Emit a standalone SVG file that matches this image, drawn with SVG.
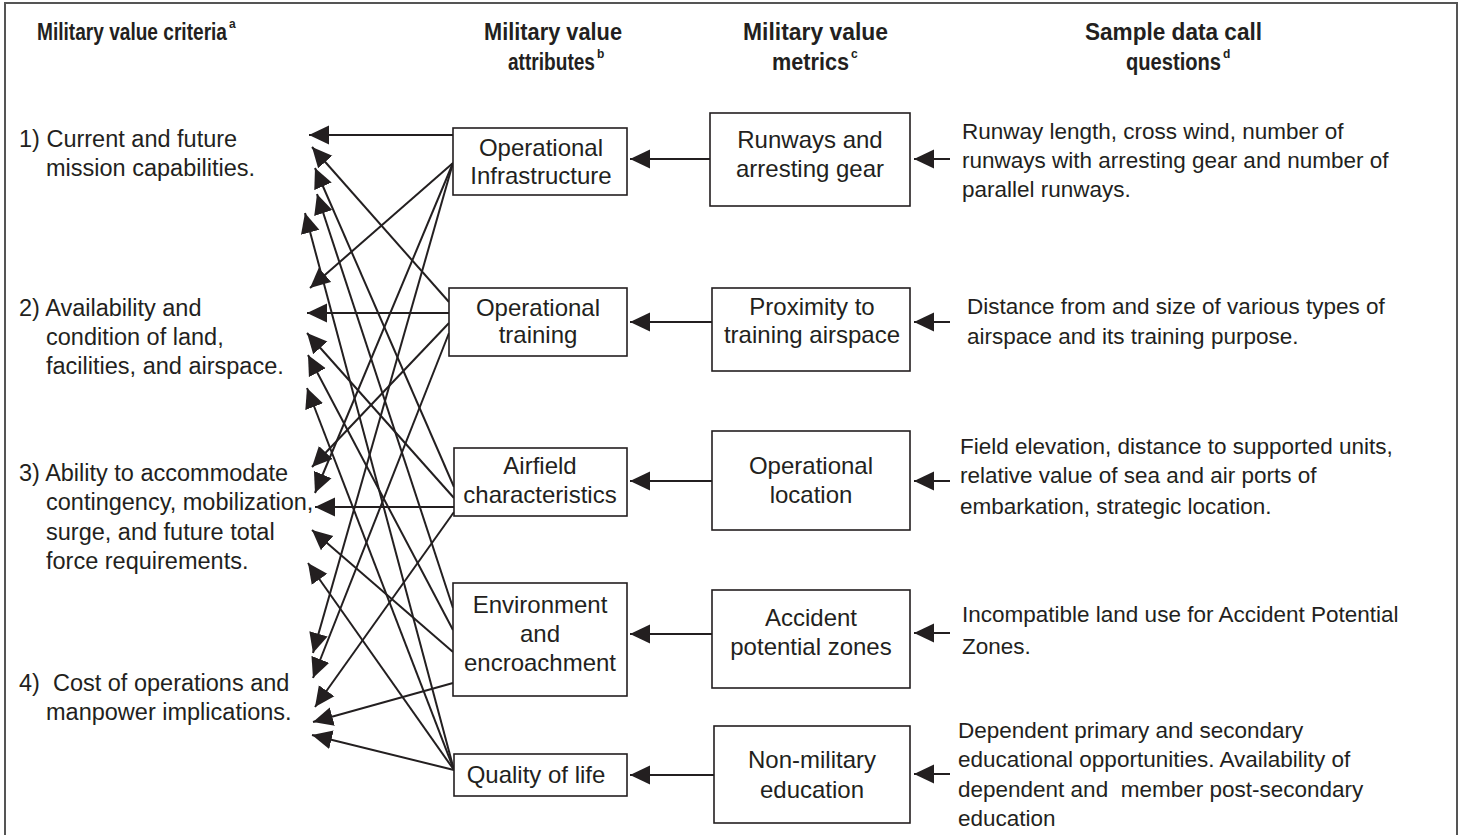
<svg xmlns="http://www.w3.org/2000/svg" width="1460" height="835" viewBox="0 0 1460 835">
<defs>
<marker id="ah" viewBox="0 0 20 20" markerWidth="20" markerHeight="20" refX="20" refY="10" markerUnits="userSpaceOnUse" orient="auto">
<path d="M0,0.5 L20,10 L0,19.5 z" fill="#231f20"/>
</marker>
<style>
text{font-family:"Liberation Sans",Arial,sans-serif;font-size:22.5px;fill:#231f20}
.h{font-weight:bold;font-size:23.5px}
.sup{font-size:12px;font-weight:bold}
.cr{font-size:23.5px}
.bx{font-size:24px;text-anchor:middle}
.box{fill:#fff;stroke:#231f20;stroke-width:1.6}
.ln{stroke:#231f20;stroke-width:2;fill:none;marker-end:url(#ah)}
</style>
</defs>
<rect width="1460" height="835" fill="#fff"/>
<path d="M5,835 V3 H1457 V835" fill="none" stroke="#555" stroke-width="2"/>

<g id="headers">
<text class="h" x="37" y="40"><tspan textLength="190" lengthAdjust="spacingAndGlyphs">Military value criteria</tspan><tspan class="sup" dx="2" dy="-12">a</tspan></text>
<text class="h" x="484" y="40" textLength="138" lengthAdjust="spacingAndGlyphs">Military value</text>
<text class="h" x="508" y="70"><tspan textLength="87" lengthAdjust="spacingAndGlyphs">attributes</tspan><tspan class="sup" dx="2" dy="-12">b</tspan></text>
<text class="h" x="743" y="40" textLength="145" lengthAdjust="spacingAndGlyphs">Military value</text>
<text class="h" x="772" y="70"><tspan textLength="77" lengthAdjust="spacingAndGlyphs">metrics</tspan><tspan class="sup" dx="2" dy="-12">c</tspan></text>
<text class="h" x="1085" y="40" textLength="177" lengthAdjust="spacingAndGlyphs">Sample data call</text>
<text class="h" x="1126" y="70"><tspan textLength="95" lengthAdjust="spacingAndGlyphs">questions</tspan><tspan class="sup" dx="2" dy="-12">d</tspan></text>
</g>

<g id="connectors">
<line class="ln" x1="453" y1="135" x2="309" y2="135"/>
<line class="ln" x1="453" y1="163" x2="310" y2="288"/>
<line class="ln" x1="453" y1="163" x2="315" y2="493"/>
<line class="ln" x1="453" y1="163" x2="313" y2="653"/>
<line class="ln" x1="449" y1="302" x2="312" y2="147"/>
<line class="ln" x1="449" y1="313" x2="307" y2="313"/>
<line class="ln" x1="449" y1="323" x2="312" y2="467"/>
<line class="ln" x1="449" y1="333" x2="313" y2="678"/>
<line class="ln" x1="454" y1="487" x2="315" y2="168"/>
<line class="ln" x1="454" y1="498" x2="307" y2="333"/>
<line class="ln" x1="454" y1="507" x2="315" y2="507"/>
<line class="ln" x1="454" y1="512" x2="315" y2="707"/>
<line class="ln" x1="453" y1="608" x2="317" y2="194"/>
<line class="ln" x1="453" y1="630" x2="308" y2="355"/>
<line class="ln" x1="453" y1="652" x2="312" y2="530"/>
<line class="ln" x1="453" y1="683" x2="313" y2="722"/>
<line class="ln" x1="454" y1="770" x2="305" y2="213"/>
<line class="ln" x1="454" y1="770" x2="307" y2="388"/>
<line class="ln" x1="454" y1="770" x2="308" y2="563"/>
<line class="ln" x1="454" y1="770" x2="312" y2="735"/>
<line class="ln" x1="710" y1="159" x2="630" y2="159"/>
<line class="ln" x1="712" y1="322" x2="630" y2="322"/>
<line class="ln" x1="712" y1="481" x2="630" y2="481"/>
<line class="ln" x1="712" y1="634" x2="630" y2="634"/>
<line class="ln" x1="714" y1="775" x2="630" y2="775"/>
<line class="ln" x1="950" y1="159" x2="914" y2="159"/>
<line class="ln" x1="950" y1="322" x2="914" y2="322"/>
<line class="ln" x1="950" y1="481" x2="914" y2="481"/>
<line class="ln" x1="950" y1="633" x2="914" y2="633"/>
<line class="ln" x1="950" y1="774" x2="914" y2="774"/>
</g>

<g id="criterion1">
<text class="cr" x="19" y="147">1) Current and future</text>
<text class="cr" x="46" y="176">mission capabilities.</text>
</g>
<g id="criterion2">
<text class="cr" x="19" y="316">2) Availability and</text>
<text class="cr" x="46" y="345">condition of land,</text>
<text class="cr" x="46" y="374">facilities, and airspace.</text>
</g>
<g id="criterion3">
<text class="cr" x="19" y="481">3) Ability to accommodate</text>
<text class="cr" x="46" y="510">contingency, mobilization,</text>
<text class="cr" x="46" y="540">surge, and future total</text>
<text class="cr" x="46" y="569">force requirements.</text>
</g>
<g id="criterion4">
<text class="cr" x="19" y="691" xml:space="preserve">4)  Cost of operations and</text>
<text class="cr" x="46" y="720">manpower implications.</text>
</g>

<g id="attr-infrastructure">
<rect class="box" x="453" y="128" width="174" height="67"/>
<text class="bx" x="541" y="156">Operational</text>
<text class="bx" x="541" y="184">Infrastructure</text>
</g>
<g id="attr-training">
<rect class="box" x="449" y="288" width="178" height="68"/>
<text class="bx" x="538" y="316">Operational</text>
<text class="bx" x="538" y="343">training</text>
</g>
<g id="attr-airfield">
<rect class="box" x="454" y="448" width="173" height="68"/>
<text class="bx" x="540" y="474">Airfield</text>
<text class="bx" x="540" y="503">characteristics</text>
</g>
<g id="attr-environment">
<rect class="box" x="453" y="583" width="174" height="113"/>
<text class="bx" x="540" y="613">Environment</text>
<text class="bx" x="540" y="642">and</text>
<text class="bx" x="540" y="671">encroachment</text>
</g>
<g id="attr-quality">
<rect class="box" x="454" y="754" width="173" height="42"/>
<text class="bx" x="536" y="783">Quality of life</text>
</g>

<g id="metric-runways">
<rect class="box" x="710" y="113" width="200" height="93"/>
<text class="bx" x="810" y="148">Runways and</text>
<text class="bx" x="810" y="177">arresting gear</text>
</g>
<g id="metric-proximity">
<rect class="box" x="712" y="288" width="198" height="83"/>
<text class="bx" x="812" y="315">Proximity to</text>
<text class="bx" x="812" y="343">training airspace</text>
</g>
<g id="metric-location">
<rect class="box" x="712" y="431" width="198" height="99"/>
<text class="bx" x="811" y="474">Operational</text>
<text class="bx" x="811" y="503">location</text>
</g>
<g id="metric-accident">
<rect class="box" x="712" y="590" width="198" height="98"/>
<text class="bx" x="811" y="626">Accident</text>
<text class="bx" x="811" y="655">potential zones</text>
</g>
<g id="metric-education">
<rect class="box" x="714" y="726" width="196" height="97"/>
<text class="bx" x="812" y="768">Non-military</text>
<text class="bx" x="812" y="798">education</text>
</g>

<g id="question1">
<text x="962" y="139">Runway length, cross wind, number of</text>
<text x="962" y="168">runways with arresting gear and number of</text>
<text x="962" y="197">parallel runways.</text>
</g>
<g id="question2">
<text x="967" y="314">Distance from and size of various types of</text>
<text x="967" y="344">airspace and its training purpose.</text>
</g>
<g id="question3">
<text x="960" y="454">Field elevation, distance to supported units,</text>
<text x="960" y="483">relative value of sea and air ports of</text>
<text x="960" y="514">embarkation, strategic location.</text>
</g>
<g id="question4">
<text x="962" y="622">Incompatible land use for Accident Potential</text>
<text x="962" y="654">Zones.</text>
</g>
<g id="question5">
<text x="958" y="738">Dependent primary and secondary</text>
<text x="958" y="767">educational opportunities. Availability of</text>
<text x="958" y="797" xml:space="preserve">dependent and  member post-secondary</text>
<text x="958" y="826">education</text>
</g>
</svg>
